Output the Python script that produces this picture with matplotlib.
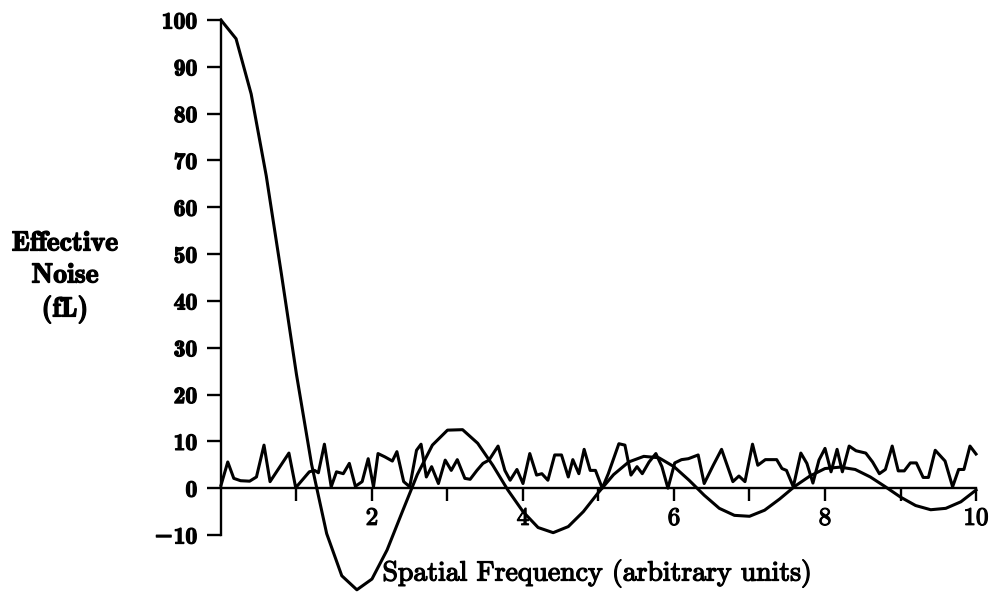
import matplotlib
matplotlib.use("Agg")
import matplotlib.pyplot as plt
import matplotlib.patheffects as pe

# damped response curve, sampled every 0.2 units
freq = [0.0, 0.2, 0.4, 0.6, 0.8, 1.0, 1.2, 1.4, 1.6, 1.8,
        2.0, 2.2, 2.4, 2.6, 2.8, 3.0, 3.2, 3.4, 3.6, 3.8,
        4.0, 4.2, 4.4, 4.6, 4.8, 5.0, 5.2, 5.4, 5.6, 5.8,
        6.0, 6.2, 6.4, 6.6, 6.8, 7.0, 7.2, 7.4, 7.6, 7.8,
        8.0, 8.2, 8.4, 8.6, 8.8, 9.0, 9.2, 9.4, 9.6, 9.8, 10.0]
response = [100.0, 96.0, 84.2, 66.7, 45.8, 24.3, 5.1, -9.7, -18.7, -21.7,
            -19.4, -13.2, -5.1, 2.9, 9.2, 12.4, 12.5, 9.6, 4.9, -0.4,
            -5.0, -8.4, -9.5, -8.2, -5.0, -0.9, 2.9, 5.6, 6.8, 6.5,
            4.6, 1.7, -1.5, -4.3, -5.8, -6.0, -4.7, -2.3, 0.4, 2.6,
            4.2, 4.5, 4.0, 2.4, 0.3, -1.9, -3.7, -4.6, -4.3, -2.9, -0.4]

# measured noise trace
noise_x = [0.00, 0.09, 0.17, 0.26, 0.38, 0.47, 0.57, 0.65, 0.90, 0.99,
           1.17, 1.24, 1.29, 1.37, 1.46, 1.53, 1.62, 1.70, 1.78, 1.87,
           1.95, 2.02, 2.08, 2.17, 2.27, 2.33, 2.42, 2.50, 2.59, 2.65,
           2.72, 2.79, 2.88, 2.97, 3.05, 3.13, 3.23, 3.30, 3.39, 3.47,
           3.55, 3.67, 3.76, 3.83, 3.92, 4.00, 4.09, 4.18, 4.25, 4.33,
           4.42, 4.51, 4.60, 4.66, 4.74, 4.81, 4.89, 4.96, 5.05, 5.13,
           5.27, 5.35, 5.43, 5.51, 5.58, 5.67, 5.76, 5.84, 5.92, 6.01,
           6.10, 6.19, 6.32, 6.40, 6.52, 6.63, 6.78, 6.86, 6.94, 7.04,
           7.11, 7.21, 7.36, 7.43, 7.49, 7.58, 7.68, 7.76, 7.84, 7.92,
           8.00, 8.08, 8.16, 8.23, 8.32, 8.41, 8.54, 8.63, 8.72, 8.80,
           8.89, 8.97, 9.05, 9.13, 9.21, 9.30, 9.37, 9.46, 9.59, 9.69,
           9.77, 9.84, 9.92, 10.00]
noise_y = [0.6, 5.6, 2.1, 1.6, 1.5, 2.4, 9.2, 1.4, 7.5, 0.1,
           3.5, 3.8, 3.3, 9.4, 0.3, 3.5, 3.1, 5.3, 0.4, 1.4,
           6.3, 0.3, 7.4, 6.7, 5.8, 7.8, 1.4, 0.3, 8.1, 9.4,
           2.4, 4.6, 1.0, 6.0, 3.8, 6.1, 2.1, 1.9, 3.8, 5.3,
           6.0, 9.0, 3.8, 1.7, 4.0, 1.0, 7.4, 2.8, 3.1, 1.7,
           7.1, 7.1, 2.4, 6.1, 3.1, 8.3, 3.8, 3.8, 0.0, 3.1,
           9.5, 9.2, 2.8, 4.6, 3.1, 5.6, 7.4, 4.6, 0.0, 5.4,
           6.1, 6.3, 7.1, 1.0, 4.9, 8.3, 1.4, 2.6, 1.4, 9.4,
           4.9, 6.1, 6.1, 4.2, 3.8, 0.3, 7.5, 5.3, 1.1, 6.0,
           8.5, 3.5, 8.3, 3.5, 9.0, 8.0, 7.5, 5.6, 3.1, 4.0,
           9.0, 3.7, 3.7, 5.4, 5.4, 2.3, 2.3, 8.1, 5.8, 0.3,
           4.0, 4.0, 9.0, 7.3]

y_ticks = [-10, 0, 10, 20, 30, 40, 50, 60, 70, 80, 90, 100]
y_tick_labels = ["\u221210", "0", "10", "20", "30", "40", "50", "60", "70", "80", "90", "100"]
x_ticks = [1, 2, 3, 4, 5, 6, 7, 8, 9, 10]
x_tick_labels = ["", "2", "", "4", "", "6", "", "8", "", "10"]

BOLD = ["cmb10", "DejaVu Serif"]
ROMAN = ["cmr10", "DejaVu Serif"]
# slight outline to give the type a heavier, printed look
heavy = [pe.withStroke(linewidth=0.9, foreground="black")]

fig = plt.figure(figsize=(9.94, 5.94), dpi=100)
ax = fig.add_axes([0.2223, 0.0993, 0.7596, 0.8670])

ax.plot(freq, response, color="black", lw=2.2, clip_on=False, zorder=3)
ax.plot(noise_x, noise_y, color="black", lw=2.2, clip_on=False, zorder=3)

ax.set_xlim(0, 10)
ax.set_ylim(-10, 100)

ax.spines["top"].set_visible(False)
ax.spines["right"].set_visible(False)
ax.spines["bottom"].set_position(("data", 0))
for s in ("left", "bottom"):
    ax.spines[s].set_linewidth(1.7)

ax.set_yticks(y_ticks, y_tick_labels)
ax.set_xticks(x_ticks, x_tick_labels)
ax.tick_params(axis="y", direction="out", length=10, width=1.7, pad=7)
ax.tick_params(axis="x", direction="out", length=9, width=1.7, pad=5)
for lab in ax.get_yticklabels():
    lab.set_family(BOLD)
    lab.set_fontsize(17)
    lab.set_path_effects(heavy)
for lab in ax.get_xticklabels():
    lab.set_family(ROMAN)
    lab.set_fontsize(18)
    lab.set_path_effects(heavy)

fig.text(0.0654, 1 - 277 / 594, "Effective\nNoise\n(fL)", family=BOLD, fontsize=20,
         ha="center", va="center", linespacing=1.3, path_effects=heavy)
fig.text(0.601, 1 - 573 / 594, "Spatial Frequency (arbitrary units)", family=ROMAN,
         fontsize=20, ha="center", va="center", path_effects=heavy)

fig.savefig("out.png", dpi=100)
